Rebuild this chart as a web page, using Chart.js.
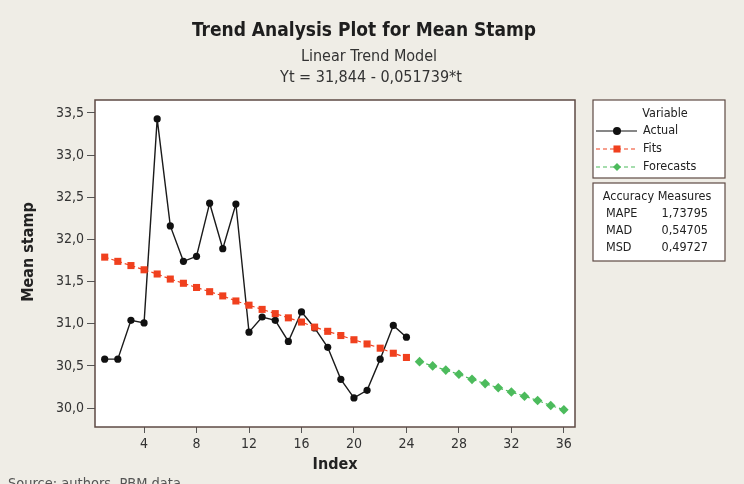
<!DOCTYPE html>
<html>
<head>
<meta charset="utf-8">
<script src="https://cdn.jsdelivr.net/npm/chart.js@4/dist/chart.umd.min.js"></script>
<style>
  html, body { margin: 0; padding: 0; background: #efede6; }
  #wrap { width: 744px; height: 484px; position: relative; }
</style>
</head>
<body>
<div id="wrap"><canvas id="trendChart" width="744" height="484"></canvas></div>
<script>
// --- data ---
const actualIndex = [1, 2, 3, 4, 5, 6, 7, 8, 9, 10, 11, 12, 13, 14, 15, 16, 17, 18, 19, 20, 21, 22, 23, 24];
const actualValues = [30.58, 30.58, 31.04, 31.01, 33.43, 32.16, 31.74, 31.80, 32.43, 31.89, 32.42, 30.90,
                      31.08, 31.04, 30.79, 31.14, 30.95, 30.72, 30.34, 30.12, 30.21, 30.58, 30.98, 30.84];
const fitsValues = [31.79, 31.74, 31.69, 31.64, 31.59, 31.53, 31.48, 31.43, 31.38, 31.33, 31.27, 31.22,
                    31.17, 31.12, 31.07, 31.02, 30.96, 30.91, 30.86, 30.81, 30.76, 30.71, 30.65, 30.60];
const forecastIndex = [25, 26, 27, 28, 29, 30, 31, 32, 33, 34, 35, 36];
const forecastValues = [30.55, 30.50, 30.45, 30.40, 30.34, 30.29, 30.24, 30.19, 30.14, 30.09, 30.03, 29.98];

const xTicks = [4, 8, 12, 16, 20, 24, 28, 32, 36];
const yTicks = [30.0, 30.5, 31.0, 31.5, 32.0, 32.5, 33.0, 33.5];

const accuracyNames = ['MAPE', 'MAD', 'MSD'];
const accuracyValues = ['1,73795', '0,54705', '0,49727'];

const FONT = "'DejaVu Sans Condensed', 'Liberation Sans Narrow', sans-serif";
const RED = '#f0401e';
const GREEN = '#4cbb5c';
const FRAME = '#5e4a44';

function pts(xs, ys) {
    return xs.map((x, i) => ({ x: x, y: ys[i] }));
}

// background, white plot area, frame and all the Minitab-style texts
const decorPlugin = {
    id: 'decor',
    beforeDraw(chart) {
        const c = chart.ctx, a = chart.chartArea;
        c.save();
        c.fillStyle = '#efede6';
        c.fillRect(0, 0, chart.width, chart.height);
        c.fillStyle = '#ffffff';
        c.fillRect(a.left, a.top, a.right - a.left, a.bottom - a.top);
        c.restore();
    },
    afterDraw(chart) {
        const c = chart.ctx, a = chart.chartArea;
        c.save();
        // frame
        c.strokeStyle = FRAME;
        c.lineWidth = 1.5;
        c.strokeRect(a.left, a.top, a.right - a.left, a.bottom - a.top);

        // titles
        c.fillStyle = '#1e1e1e';
        c.textAlign = 'center';
        c.textBaseline = 'middle';
        c.font = 'bold 19px ' + FONT;
        c.fillText('Trend Analysis Plot for Mean Stamp', 364, 31);
        c.fillStyle = '#333';
        c.font = '16px ' + FONT;
        c.fillText('Linear Trend Model', 369, 57);
        c.fillText('Yt = 31,844 - 0,051739*t', 371, 78);

        // axis titles
        c.fillStyle = '#222';
        c.font = 'bold 16px ' + FONT;
        c.fillText('Index', 335, 465);
        c.save();
        c.translate(29, 252);
        c.rotate(-Math.PI / 2);
        c.fillText('Mean stamp', 0, 0);
        c.restore();

        // source line (cut off at the bottom like the original)
        c.textAlign = 'left';
        c.fillStyle = '#555';
        c.font = '14.5px ' + FONT;
        c.fillText('Source: authors, PBM data', 8, 484);

        // legend box
        c.fillStyle = '#fff';
        c.fillRect(593, 100, 132, 78);
        c.fillRect(593, 183, 132, 78);
        c.strokeStyle = FRAME;
        c.lineWidth = 1.2;
        c.strokeRect(593, 100, 132, 78);
        c.strokeRect(593, 183, 132, 78);

        c.fillStyle = '#222';
        c.font = '12.5px ' + FONT;
        c.textAlign = 'center';
        c.fillText('Variable', 665, 114);
        c.textAlign = 'left';
        const rows = [
            { label: 'Actual', y: 131, color: '#111', dash: [], style: 'circle' },
            { label: 'Fits', y: 149, color: RED, dash: [4, 3], style: 'rect' },
            { label: 'Forecasts', y: 167, color: GREEN, dash: [4, 3], style: 'rectRot' }
        ];
        rows.forEach(r => {
            c.strokeStyle = r.color;
            c.lineWidth = 1.2;
            c.setLineDash(r.dash);
            c.beginPath();
            c.moveTo(596, r.y);
            c.lineTo(637, r.y);
            c.stroke();
            c.setLineDash([]);
            c.fillStyle = r.color;
            Chart.helpers.drawPoint(c, { pointStyle: r.style, radius: r.style === 'rect' ? 5 : 4, borderWidth: 0 }, 617, r.y);
            c.fillStyle = '#222';
            c.fillText(r.label, 643, r.y);
        });

        c.textAlign = 'center';
        c.fillText('Accuracy Measures', 657, 197);
        accuracyNames.forEach((n, i) => {
            const y = 214 + i * 17;
            c.textAlign = 'left';
            c.fillText(n, 606, y);
            c.textAlign = 'right';
            c.fillText(accuracyValues[i], 708, y);
        });
        c.restore();
    }
};

const tickFont = { family: FONT, size: 14 };

new Chart(document.getElementById('trendChart'), {
    type: 'line',
    data: {
        datasets: [
            {
                label: 'Actual',
                data: pts(actualIndex, actualValues),
                borderColor: '#1a1a1a',
                backgroundColor: '#111',
                borderWidth: 1.4,
                pointStyle: 'circle',
                pointRadius: 3.6,
                pointBorderWidth: 0,
                tension: 0,
                order: 2
            },
            {
                label: 'Fits',
                data: pts(actualIndex, fitsValues),
                borderColor: RED,
                backgroundColor: RED,
                borderWidth: 1.2,
                borderDash: [4, 3],
                pointStyle: 'rect',
                pointRadius: 5,
                pointBorderWidth: 0,
                order: 1
            },
            {
                label: 'Forecasts',
                data: pts(forecastIndex, forecastValues),
                borderColor: GREEN,
                backgroundColor: GREEN,
                borderWidth: 1.2,
                borderDash: [4, 3],
                pointStyle: 'rectRot',
                pointRadius: 4.8,
                pointBorderWidth: 0,
                order: 3
            }
        ]
    },
    options: {
        responsive: false,
        animation: false,
        layout: { padding: { left: 0, top: 100, right: 169, bottom: 0 } },
        plugins: { legend: { display: false }, tooltip: { enabled: false } },
        scales: {
            x: {
                type: 'linear',
                min: 0.26,
                max: 36.85,
                afterBuildTicks: s => { s.ticks = xTicks.map(v => ({ value: v })); },
                afterFit: s => { s.height = 57; },
                grid: { drawOnChartArea: false, drawTicks: true, tickLength: 6, color: '#555' },
                border: { display: false },
                ticks: { padding: 3, font: tickFont, color: '#333', maxRotation: 0 }
            },
            y: {
                type: 'linear',
                min: 29.775,
                max: 33.654,
                afterBuildTicks: s => { s.ticks = yTicks.map(v => ({ value: v })); },
                afterFit: s => { s.width = 95; },
                grid: { drawOnChartArea: false, drawTicks: true, tickLength: 8, color: '#555' },
                border: { display: false },
                ticks: {
                    padding: 3,
                    font: tickFont,
                    color: '#333',
                    callback: v => v.toFixed(1).replace('.', ',')
                }
            }
        }
    },
    plugins: [decorPlugin]
});
</script>
</body>
</html>
